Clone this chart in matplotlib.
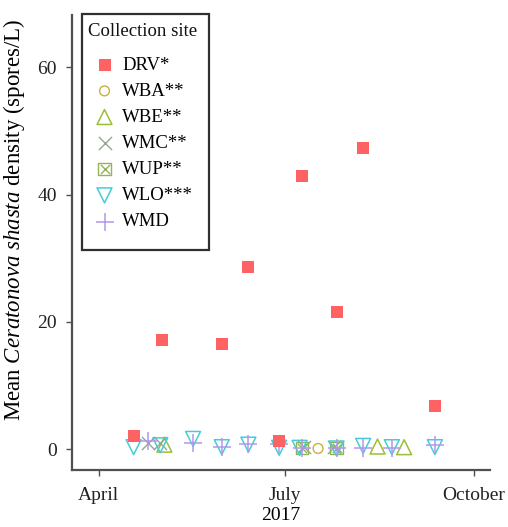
import matplotlib.pyplot as plt
import matplotlib.dates as mdates
from matplotlib.legend_handler import HandlerTuple
from matplotlib.patches import Rectangle
import numpy as np
import datetime as dt

plt.rcParams['font.family'] = ['Liberation Serif', 'DejaVu Serif']
plt.rcParams['mathtext.fontset'] = 'custom'
plt.rcParams['mathtext.rm'] = 'Liberation Serif'
plt.rcParams['mathtext.it'] = 'Liberation Serif:italic'

# mean spore density per sampling date, one list per collection site
drv_dates = ['2017-04-18', '2017-05-02', '2017-05-31', '2017-06-13', '2017-06-28',
             '2017-07-09', '2017-07-26', '2017-08-08', '2017-09-12']
drv_vals = [2.0, 17.1, 16.6, 28.7, 1.2, 43.0, 21.5, 47.4, 6.8]

wba_dates = ['2017-07-17']
wba_vals = [0.1]

wbe_dates = ['2017-05-03', '2017-08-15', '2017-08-28']
wbe_vals = [0.7, 0.4, 0.3]

wmc_dates = ['2017-04-25', '2017-05-01', '2017-07-10', '2017-07-25']
wmc_vals = [1.0, 0.9, 0.3, 0.3]

wup_dates = ['2017-07-09', '2017-07-26']
wup_vals = [0.2, 0.2]

wlo_dates = ['2017-04-18', '2017-05-01', '2017-05-17', '2017-05-31', '2017-06-13',
             '2017-06-28', '2017-07-08', '2017-07-26', '2017-08-08', '2017-08-22',
             '2017-09-12']
wlo_vals = [0.3, 0.6, 1.6, 0.3, 0.7, 0.2, 0.2, 0.1, 0.5, 0.3, 0.3]

wmd_dates = ['2017-04-25', '2017-05-17', '2017-05-31', '2017-06-13', '2017-06-28',
             '2017-07-09', '2017-07-26', '2017-08-08', '2017-08-22', '2017-09-12']
wmd_vals = [1.2, 1.0, 0.4, 0.8, 0.8, 0.2, 0.2, 0.2, 0.2, 0.6]

site_labels = ['DRV*', 'WBA**', 'WBE**', 'WMC**', 'WUP**', 'WLO***', 'WMD']
month_ticks = ['2017-04-01', '2017-07-01', '2017-10-01']
month_labels = ['April', 'July', 'October']


def to_dates(lst):
    return [dt.datetime.strptime(d, '%Y-%m-%d') for d in lst]


W, H = 508, 527
fig = plt.figure(figsize=(W / 100, H / 100), dpi=100)
ax = fig.add_axes([0.142, 0.108, 0.823, 0.863])

h_drv = ax.scatter(to_dates(drv_dates), drv_vals, marker='s', s=75,
                   color='#FF6262', linewidths=0, zorder=3)
h_wba = ax.scatter(to_dates(wba_dates), wba_vals, marker='o', s=50,
                   facecolors='none', edgecolors='#C9B040', linewidths=1.0)
h_wbe = ax.scatter(to_dates(wbe_dates), wbe_vals, marker='^', s=115,
                   facecolors='none', edgecolors='#9BBE3A', linewidths=1.1)
h_wmc = ax.scatter(to_dates(wmc_dates), wmc_vals, marker='x', s=90,
                   color='#93A88C', linewidths=1.0)
h_wup1 = ax.scatter(to_dates(wup_dates), wup_vals, marker='s', s=75,
                    facecolors='none', edgecolors='#94B25A', linewidths=1.0)
h_wup2 = ax.scatter(to_dates(wup_dates), wup_vals, marker='x', s=45,
                    color='#94B25A', linewidths=1.0)
h_wlo = ax.scatter(to_dates(wlo_dates), wlo_vals, marker='v', s=115,
                   facecolors='none', edgecolors='#45CCDA', linewidths=1.1)
h_wmd = ax.scatter(to_dates(wmd_dates), wmd_vals, marker='+', s=150,
                   color='#B596EC', linewidths=1.1)

ax.set_xlim(dt.datetime(2017, 3, 19), dt.datetime(2017, 10, 9))
ax.set_ylim(-3.3, 68.2)
ax.set_xticks(to_dates(month_ticks))
ax.set_xticklabels(month_labels)
ax.set_yticks([0, 20, 40, 60])
ax.set_xlabel('2017', fontsize=14, labelpad=2)
ax.set_ylabel('Mean $\\it{Ceratonova\\ shasta}$ density (spores/L)', fontsize=16.5)
ax.yaxis.set_label_coords(-0.108, 0.55)

for s in ['top', 'right']:
    ax.spines[s].set_visible(False)
for s in ['left', 'bottom']:
    ax.spines[s].set_color('#505050')
    ax.spines[s].set_linewidth(1.6)
ax.tick_params(colors='#505050', labelcolor='#222222', labelsize=14, length=4,
               width=1.0)
ax.tick_params(axis='x', pad=8)
ax.tick_params(axis='y', pad=7)

# legend box: frame drawn by hand so the title can sit apart from the keys
box = Rectangle((82 / W, 1 - 250 / H), 127 / W, 236 / H, transform=fig.transFigure,
                facecolor='white', edgecolor='#303030', linewidth=1.6, zorder=4)
fig.patches.append(box)
fig.text(88 / W, 1 - 31 / H, 'Collection site', fontsize=13.5, va='center',
         ha='left', color='#111111', zorder=5)

leg = fig.legend([h_drv, h_wba, h_wbe, h_wmc, (h_wup1, h_wup2), h_wlo, h_wmd],
                 site_labels, loc='upper left',
                 bbox_to_anchor=(82 / W, 1 - 50 / H), borderaxespad=0,
                 fontsize=13.5, frameon=False, labelspacing=0.48,
                 handletextpad=0.1, handlelength=1.7, borderpad=0.35,
                 handler_map={tuple: HandlerTuple(ndivide=1)})
leg.set_zorder(6)

fig.savefig('out.png', dpi=100)
